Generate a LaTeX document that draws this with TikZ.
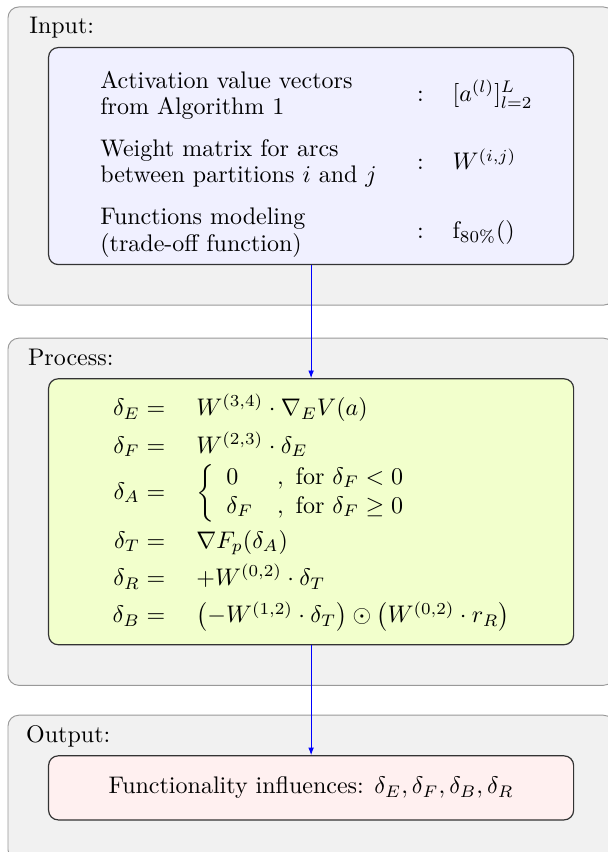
\documentclass[tikz,border=0pt]{standalone}
\usepackage{amsmath,amssymb}
\usepackage{array}
\usepackage{xcolor}
\usepackage{tikz}
\usetikzlibrary{arrows.meta,positioning,fit,backgrounds,calc}
\definecolor{pnlfill}{rgb}{0.945,0.945,0.945}
\definecolor{pnldraw}{rgb}{0.60,0.60,0.60}

\begin{document}
\begin{tikzpicture}[
  box/.style={draw=black!80, rounded corners=4pt, align=center, line width=0.5pt,
              minimum width=218.75pt, inner sep=0pt},
  inbox/.style={box, fill=blue!6, minimum height=90.4pt},
  procbox/.style={box, fill=lime!20, minimum height=110.8pt},
  outbox/.style={box, fill=red!6, minimum height=26.7pt},
  panel/.style={draw=pnldraw, fill=pnlfill, rounded corners=4.5pt, inner sep=16.67pt},
  panellbl/.style={anchor=north west, inner sep=0pt},
  arr/.style={-{Latex[length=3.2pt,width=2.4pt]}, blue, line width=0.4pt}
]

\node[inbox] (in) {\raisebox{-3.3pt}[\height][\depth]{%
  \begin{tabular}{@{\hspace{4.5pt}}>{\raggedright\arraybackslash\setlength{\baselineskip}{11pt}}m{120pt}c@{\hspace{12pt}}l@{}}
    Activation value vectors\newline from Algorithm 1 & : & $[a^{(l)}]_{l=2}^{L}$ \\[11pt]
    Weight matrix for arcs\newline between partitions $i$ and $j$ & : & $W^{(i,j)}$ \\[11pt]
    Functions modeling\newline (trade-off function) & : & $\mathrm{f}_{80\%}()$
  \end{tabular}}};

\node[procbox, below=47.1pt of in] (proc) {%
  $\renewcommand{\arraystretch}{1.3}
  \begin{array}{@{}r@{\hspace{13pt}}l@{}}
    \delta_E = & W^{(3,4)} \cdot \nabla_E V(a) \\
    \delta_F = & W^{(2,3)} \cdot \delta_E \\
    \delta_A = & \renewcommand{\arraystretch}{1.0}
                 \left\{ \begin{array}{ll} 0 & ,\ \text{for}\ \delta_F < 0 \\
                               \delta_F & ,\ \text{for}\ \delta_F \geq 0 \end{array} \right. \\
    \delta_T = & \nabla F_p(\delta_A) \\
    \delta_R = & +W^{(0,2)} \cdot \delta_T \\
    \delta_B = & \left(-W^{(1,2)} \cdot \delta_T\right) \odot \left(W^{(0,2)} \cdot r_R\right)
  \end{array}$};

\node[outbox, below=45.8pt of proc] (out)
  {Functionality influences: $\delta_E, \delta_F, \delta_B, \delta_R$};

% grey panels behind the three stages
\begin{scope}[on background layer]
  \node[panel, fit=(in)] (inpanel) {};
  \node[panel, fit=(proc)] (procpanel) {};
  \node[panel, fit=(out)] (outpanel) {};
\end{scope}

\node[panellbl] (inlbl) at ([xshift=8.9pt, yshift=-4.2pt]inpanel.north west) {Input:};
\node[panellbl] (proclbl) at ([xshift=8.4pt, yshift=-4.6pt]procpanel.north west) {Process:};
\node[panellbl] (outlbl) at ([xshift=7.6pt, yshift=-4.2pt]outpanel.north west) {Output:};

\draw[arr] (in) -- (proc);
\draw[arr] (proc) -- (out);

\pgfresetboundingbox
\path[use as bounding box] ([xshift=-20pt, yshift=19.58pt]in.north west) rectangle ++(253.33pt,-355pt);
\end{tikzpicture}
\end{document}
